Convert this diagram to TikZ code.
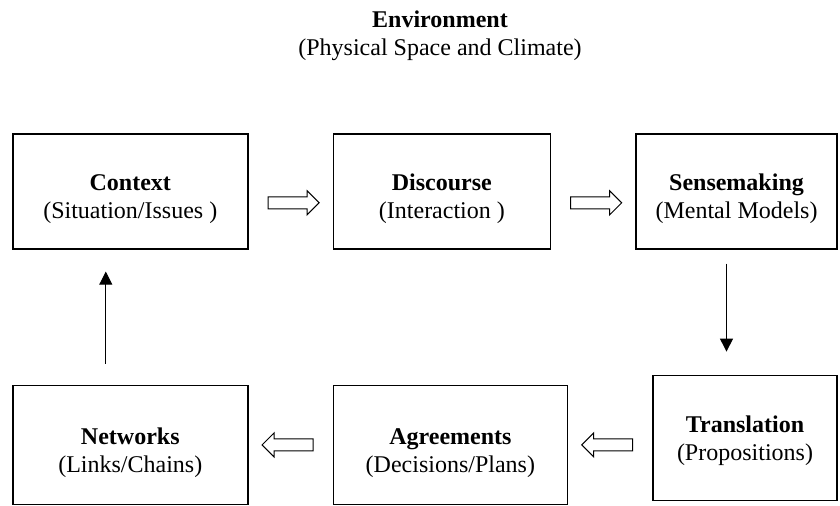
\documentclass[tikz,border=0pt]{standalone}
\usepackage{fontspec}
\setmainfont{Liberation Serif}
\usetikzlibrary{positioning, shapes.arrows, arrows.meta}
\tikzstyle{stage} = [rectangle, minimum height=57.5pt, inner sep=0pt, align=center, text centered, text height=30pt, draw=black, line width=0.8pt]
\tikzstyle{fatarrow} = [single arrow, draw=black, line width=0.5pt, inner xsep=0pt, inner ysep=2.75pt, minimum height=25.5pt, single arrow head extend=3pt, single arrow tip angle=90]
\tikzstyle{arrow} = [-{Triangle[length=6.5pt, width=6.5pt]}, line width=0.5pt]

\begin{document}
\begin{tikzpicture}[font=\fontsize{12pt}{14pt}\selectfont]
	\useasboundingbox (0,0) rectangle (420pt,-252.5pt);
	\node (env) [align=center, anchor=north] at (220pt,-2pt) {\textbf{Environment}\\(Physical Space and Climate)};
	
	\node (context) [stage, anchor=north west, minimum width=117.5pt] at (6pt,-66.5pt) {\textbf{Context}\\(Situation/Issues )};
	\node (discourse) [stage, right=42pt of context, minimum width=108.5pt] {\textbf{Discourse}\\(Interaction )};
	\node (sensemaking) [stage, right=42pt of discourse, minimum width=100.5pt] {\textbf{Sensemaking}\\(Mental Models)};
	\node (translation) [stage, below=62.5pt of sensemaking.south east, anchor=north east, minimum width=92pt, minimum height=62.5pt, text height=25pt] {\textbf{Translation}\\(Propositions)};
	\node (agreements) [stage, left=42pt of translation, yshift=-3.5pt, minimum width=117pt, minimum height=59.5pt] {\textbf{Agreements}\\(Decisions/Plans)};
	\node (networks) [stage, left=42pt of agreements, minimum width=117.5pt, minimum height=59.5pt] {\textbf{Networks}\\(Links/Chains)};
	
	\path ([yshift=-5.75pt]context.east) -- node[fatarrow]{} ([yshift=-5.75pt]discourse.west);
	\path ([yshift=-5.75pt]discourse.east) -- node[fatarrow]{} ([yshift=-5.75pt]sensemaking.west);
	\path (agreements.east -| translation.west) -- node[fatarrow, shape border rotate=180]{} (agreements.east);
	\path (agreements.west) -- node[fatarrow, shape border rotate=180]{} (networks.east);
	
	\draw [arrow]([xshift=-5pt, yshift=-7pt]sensemaking.south) -- ([xshift=-9.25pt, yshift=11.5pt]translation.north);
	\draw [arrow]([xshift=-12.25pt, yshift=10.5pt]networks.north) -- ([xshift=-12.25pt, yshift=-11pt]context.south);
\end{tikzpicture}
\end{document}
